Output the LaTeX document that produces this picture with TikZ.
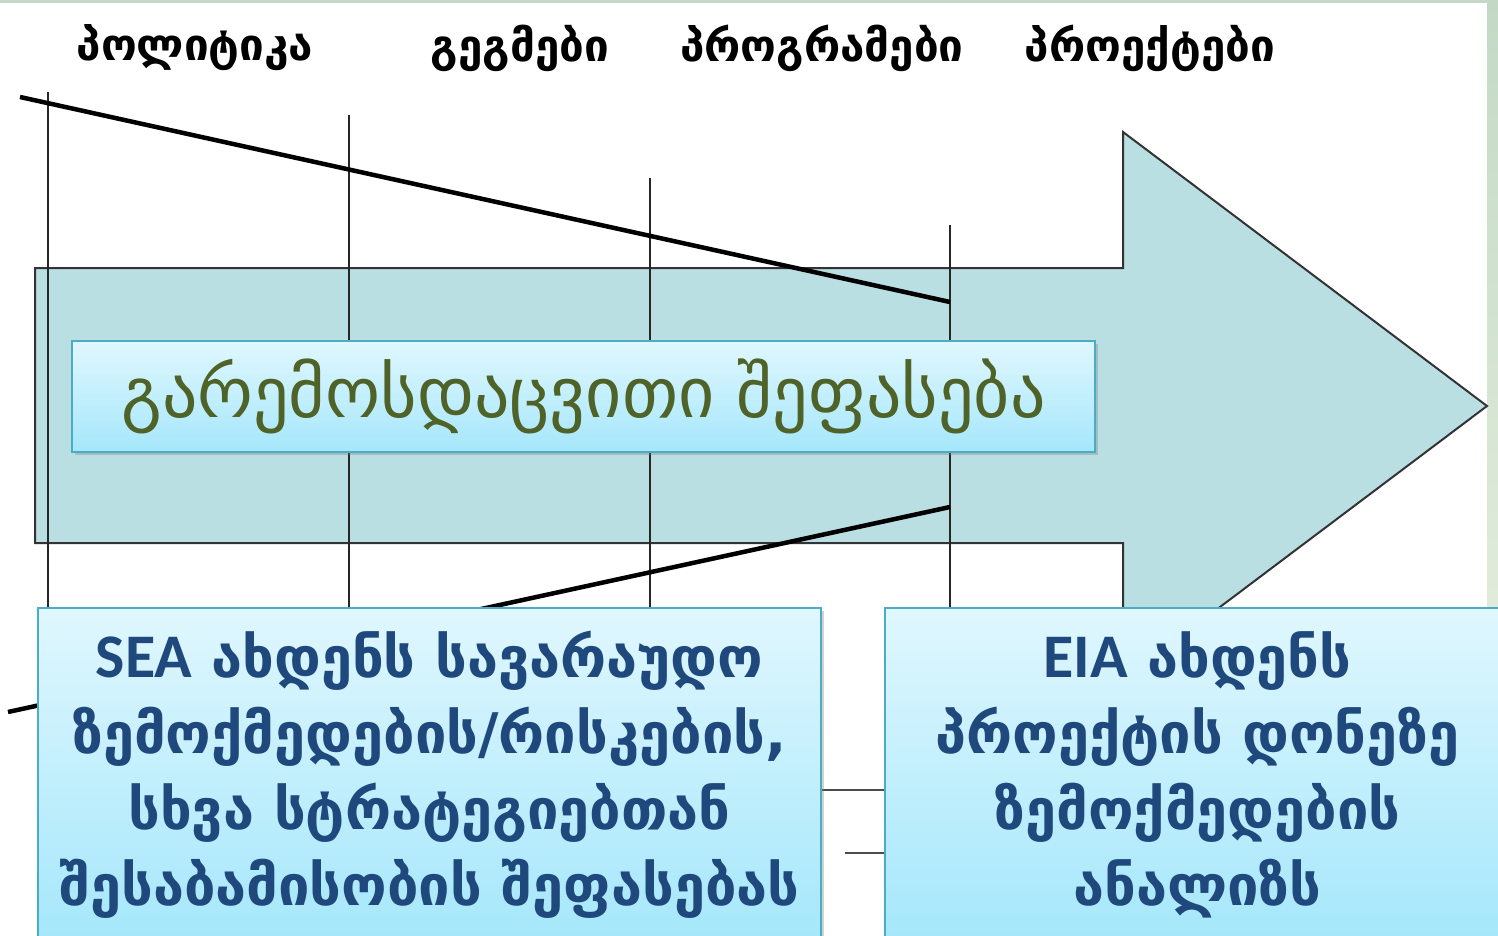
\documentclass[tikz,border=0pt]{standalone}
\usepackage{fontspec}
\setmainfont{DejaVu Sans}
\newfontfamily\latinfont{Carlito}
\usetikzlibrary{shadows}

\definecolor{bgtop}{HTML}{C3D9C6}
\definecolor{bgbot}{HTML}{F1F5E6}
\definecolor{arrowfill}{HTML}{B9DFE3}
\definecolor{arrowline}{HTML}{333333}
\definecolor{boxtop}{HTML}{E0F7FE}
\definecolor{boxbot}{HTML}{A5E7FB}
\definecolor{boxline}{HTML}{4BACC6}
\definecolor{envtext}{HTML}{4F6228}
\definecolor{boxtext}{HTML}{1F497D}

\tikzset{
  level/.style={font=\bfseries\fontsize{44}{50}\selectfont, text=black},
  guide/.style={draw=black!85, line width=1.3pt},
  trend/.style={draw=black, line width=4.5pt},
  stub/.style={draw=black!70, line width=2pt},
  boxshadow/.style={drop shadow={opacity=0.35, shadow xshift=3pt, shadow yshift=-3pt}},
  envbox/.style={draw=boxline, line width=1.5pt, top color=boxtop, bottom color=boxbot,
    boxshadow, text=envtext, font=\fontsize{70}{80}\selectfont,
    minimum width=1023pt, minimum height=111pt},
  infobox/.style={draw=boxline, line width=1.5pt, top color=boxtop, bottom color=boxbot,
    boxshadow, align=center, text=boxtext, font=\bfseries\fontsize{56}{76}\selectfont,
    anchor=north, minimum height=334pt}
}
\newcommand{\abbr}[1]{{\latinfont\fontsize{62}{76}\selectfont #1}}

\begin{document}
\begin{tikzpicture}[x=1pt,y=-1pt]
	\clip (0,0) rectangle (1498,936);
	% slide background
	\shade[top color=bgtop, bottom color=bgbot] (0,0) rectangle (1498,936);
	\fill[white] (0,3) rectangle (1487,936);
	% big arrow
	\filldraw[fill=arrowfill, draw=arrowline, line width=2pt]
		(35,268) -- (1123,268) -- (1123,132) -- (1487,406) -- (1123,680) -- (1123,543) -- (35,543) -- cycle;
	% levels
	\node[level] (pol) at (195,48) {პოლიტიკა};
	\node[level] (geg) at (520,48) {გეგმები};
	\node[level] (prg) at (822,48) {პროგრამები};
	\node[level] (prj) at (1150,48) {პროექტები};
	\foreach \name/\x/\y in {g1/48/92, g2/349/115, g3/650/178, g4/950/225}{
		\coordinate (\name top) at (\x,\y);
		\coordinate (\name bot) at (\x,936);
		\draw[guide] (\name top) -- (\name bot);
	}
	% trends
	\coordinate (t1) at (20,97);
	\coordinate (t2) at (950,302);
	\coordinate (b1) at (950,507);
	\coordinate (b2) at (8,712);
	\draw[trend] (t1) -- (t2);
	\draw[trend] (b1) -- (b2);
	% assessment
	\node[envbox] (env) at (583.5,396.5) {გარემოსდაცვითი შეფასება};
	\coordinate (s1) at (821,790);
	\coordinate (s2) at (885,790);
	\coordinate (s3) at (845,853);
	\coordinate (s4) at (885,853);
	\draw[stub] (s1) -- (s2);
	\draw[stub] (s3) -- (s4);
	\node[infobox, minimum width=783pt] (sea) at (429.5,607)
		{\abbr{SEA} ახდენს სავარაუდო\\ზემოქმედების/რისკების,\\სხვა სტრატეგიებთან\\შესაბამისობის შეფასებას};
	\node[infobox, minimum width=625pt] (eia) at (1197.5,607)
		{\abbr{EIA} ახდენს\\პროექტის დონეზე\\ზემოქმედების\\ანალიზს};
\end{tikzpicture}
\end{document}
